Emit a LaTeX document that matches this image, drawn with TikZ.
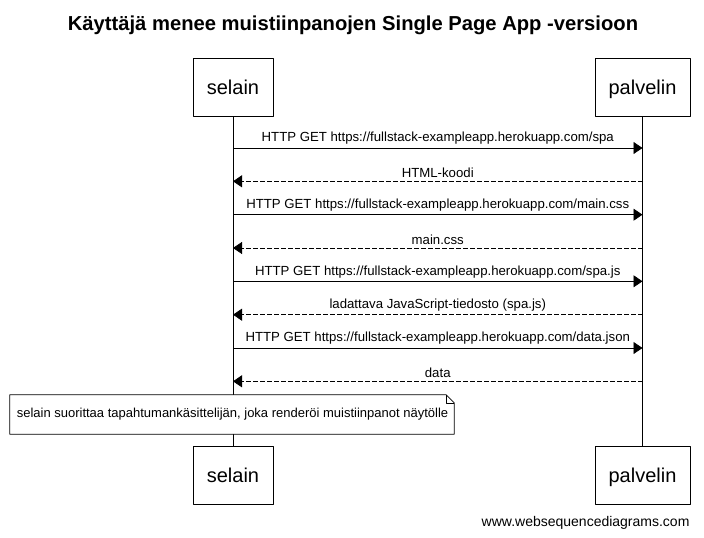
\documentclass[tikz,border=0pt]{standalone}
\usepackage{fontspec}
\setmainfont{Liberation Sans}
\usetikzlibrary{arrows.meta}
\begin{document}
\begin{tikzpicture}[x=1pt,y=-1pt,join=round]
    \tikzstyle{actor} = [draw,line width=.8pt,minimum height=58pt,inner sep=0pt,
                         text height=18pt,text depth=4pt,
                         font=\fontsize{20}{24}\selectfont]
    \tikzstyle{msg} = [font=\fontsize{13.2}{15}\selectfont,inner sep=3pt,above]
    \tikzstyle{req} = [line width=.8pt,-{Triangle[length=9pt,width=12pt]}]
    \tikzstyle{resp} = [req,dash pattern=on 4.5pt off 2.5pt]
    \tikzstyle{life} = [line width=.8pt]
    \useasboundingbox[fill=white] (0,0) rectangle (704,538);
    \node[font=\bfseries\fontsize{20.2}{24}\selectfont] (title) at (353,25)
        {Käyttäjä menee muistiinpanojen Single Page App -versioon};
    % osallistujat
    \node[actor,minimum width=80pt] (selain) at (233,87) {selain};
    \node[actor,minimum width=95pt] (palvelin) at (642.5,87) {palvelin};
    \node[actor,minimum width=80pt] (selainB) at (233,475.5) {selain};
    \node[actor,minimum width=95pt] (palvelinB) at (642.5,475.5) {palvelin};
    \draw[life] (selain) -- (selainB);
    \draw[life] (palvelin) -- (palvelinB);
    % viestit
    \foreach \n/\y in {1/148,2/181.3,3/214.7,4/248,5/281.3,6/314.7,7/348,8/381.3}{
        \coordinate (s\n) at (selain |- 0,\y);
        \coordinate (p\n) at (palvelin |- 0,\y);
    }
    \draw[req] (s1) -- node[msg] {HTTP GET https://fullstack-exampleapp.herokuapp.com/spa} (p1);
    \draw[resp] (p2) -- node[msg] {HTML-koodi} (s2);
    \draw[req] (s3) -- node[msg] {HTTP GET https://fullstack-exampleapp.herokuapp.com/main.css} (p3);
    \draw[resp] (p4) -- node[msg] {main.css} (s4);
    \draw[req] (s5) -- node[msg] {HTTP GET https://fullstack-exampleapp.herokuapp.com/spa.js} (p5);
    \draw[resp] (p6) -- node[msg] {ladattava JavaScript-tiedosto (spa.js)} (s6);
    \draw[req] (s7) -- node[msg] {HTTP GET https://fullstack-exampleapp.herokuapp.com/data.json} (p7);
    \draw[resp] (p8) -- node[msg] {data} (s8);
    % huomautus
    \node[minimum width=444pt,minimum height=39pt,inner sep=0pt] (note) at (232,414.5) {};
    \filldraw[fill=white,line width=.8pt] (note.south west) -- (note.north west)
        -- ([xshift=-8pt]note.north east) -- ([yshift=-8pt]note.north east)
        -- (note.south east) -- cycle;
    \draw[line width=.6pt] ([xshift=-8pt]note.north east) |- ([yshift=-8pt]note.north east);
    \node[font=\fontsize{13}{15}\selectfont] (notetext) at (232.5,414.5)
        {selain suorittaa tapahtumankäsittelijän, joka renderöi muistiinpanot näytölle};
    \node[font=\fontsize{14}{16}\selectfont,anchor=east] (www) at (693,523)
        {www.websequencediagrams.com};
\end{tikzpicture}
\end{document}
